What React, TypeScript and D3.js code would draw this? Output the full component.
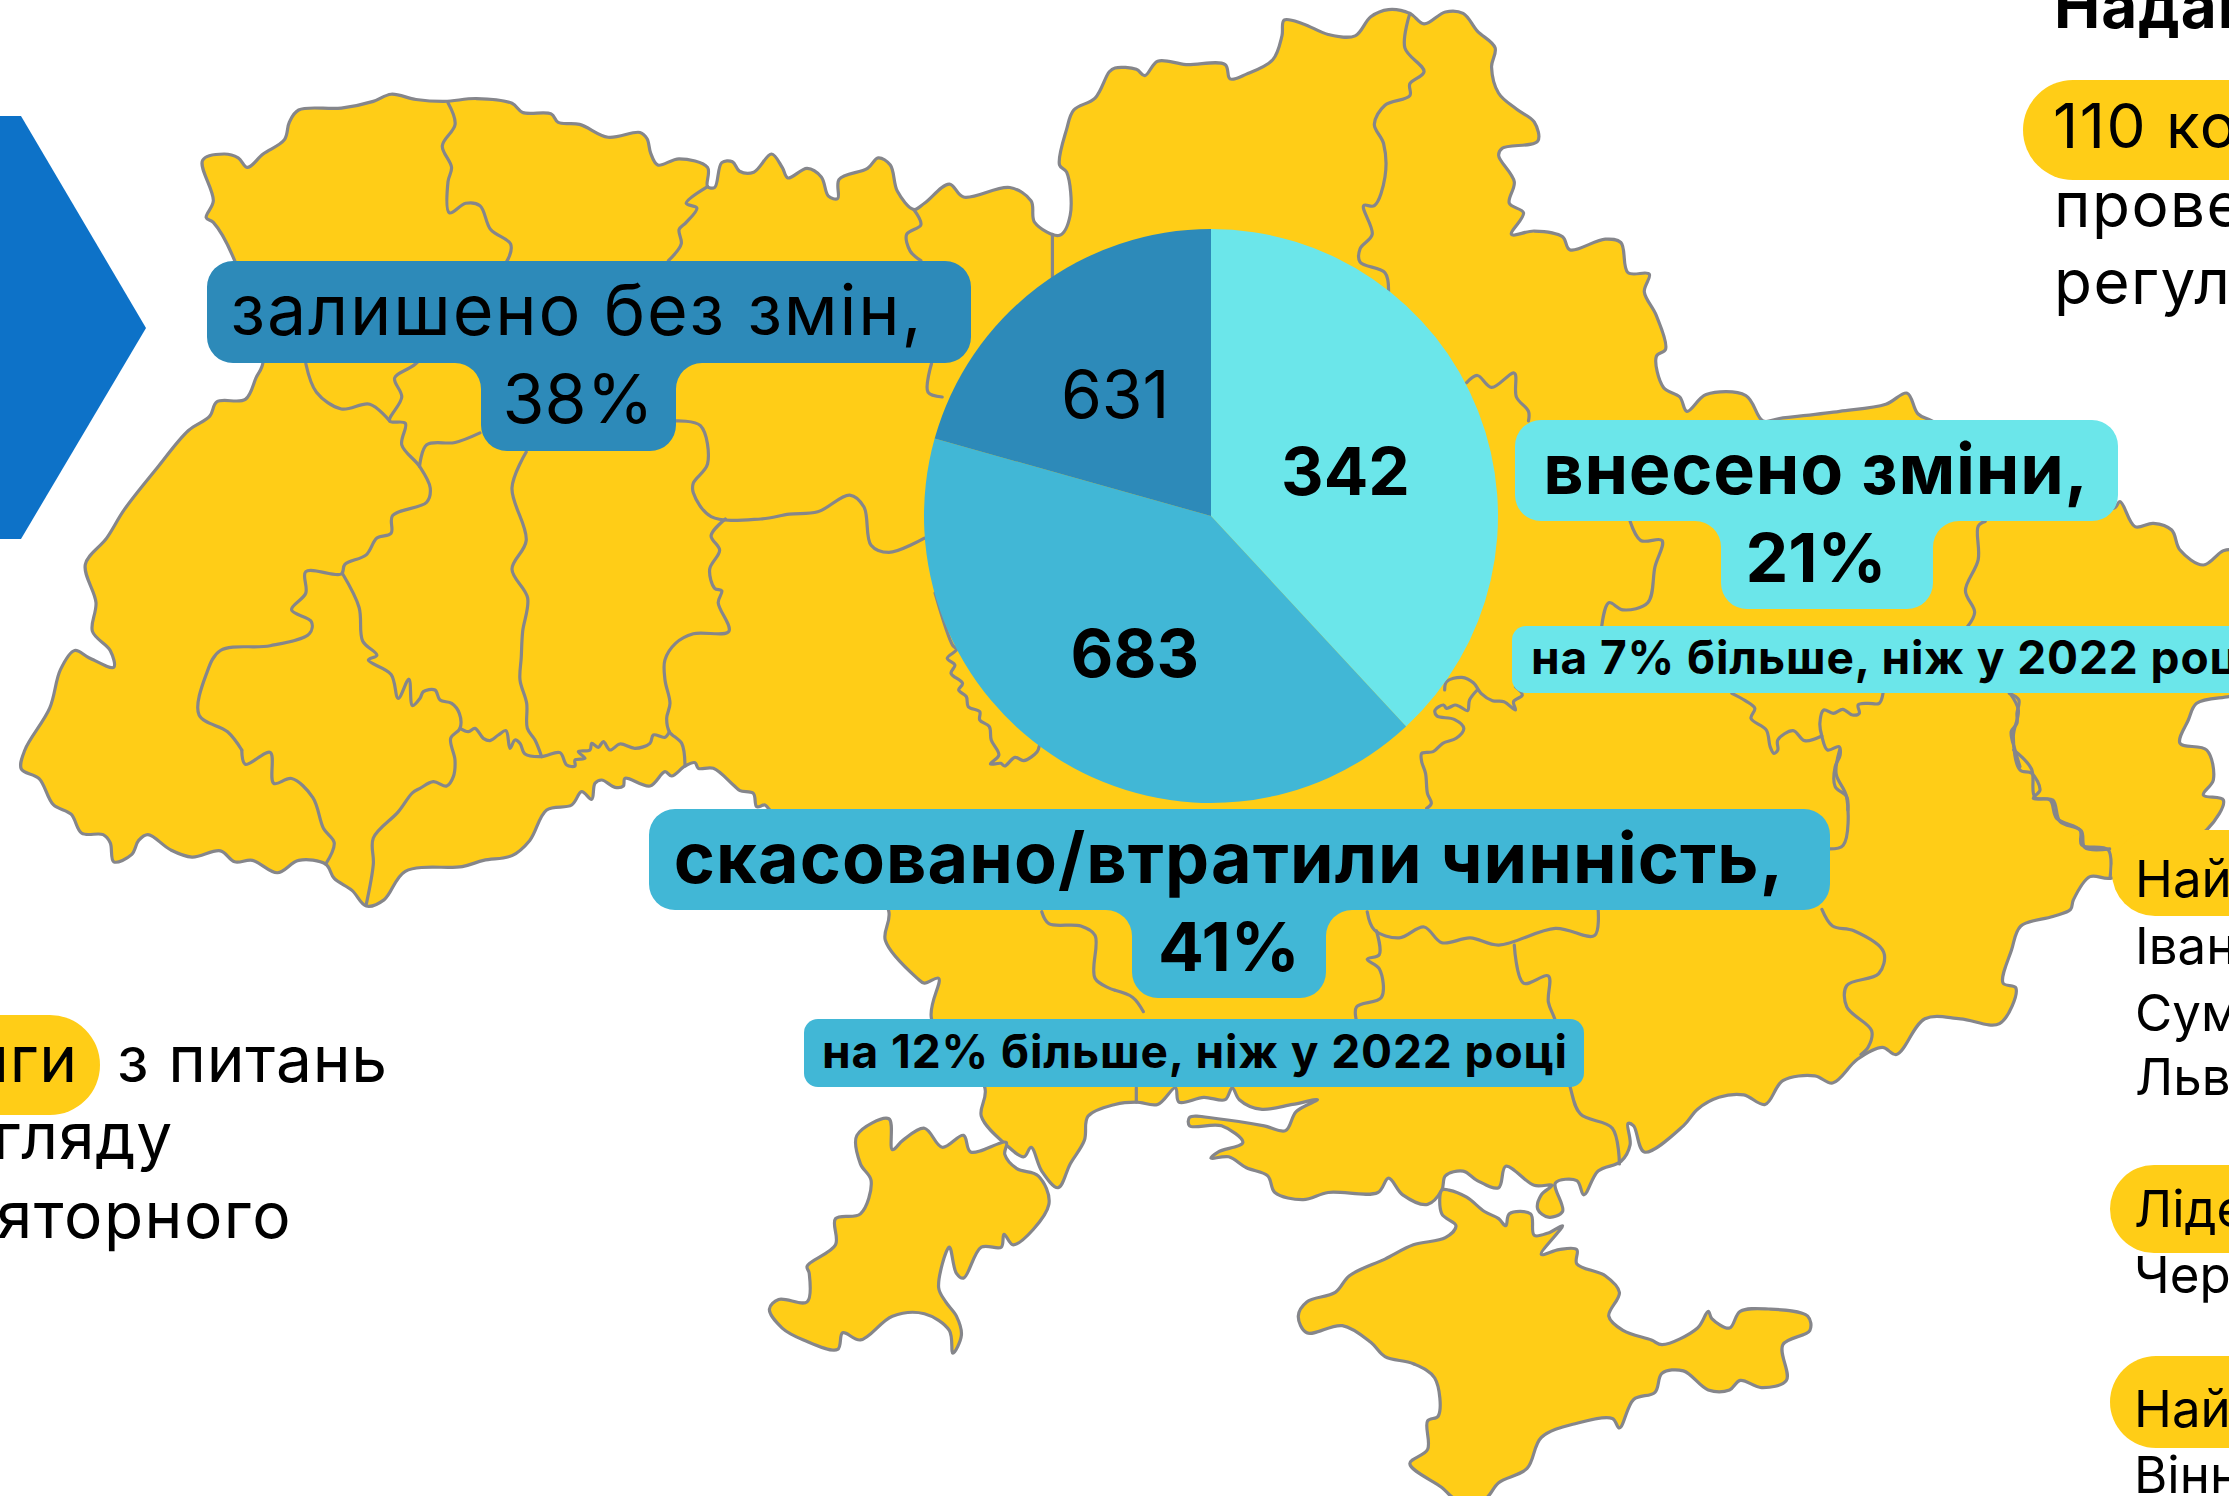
import { useEffect, useRef } from 'react'
import * as d3 from 'd3'

// Pie: the slices of the source are sized with these numbers, in drawing order
const sliceValues = [631, 683, 342]
// ...and printed with these ones (the source swaps 342 and 631)
const sliceLabels = ['342', '683', '631']
const sliceWeights = [700, 700, 400]
const sliceColors = ['#6BE6EA', '#41B7D6', '#2D8AB9']

const W = 2229
const H = 1496
const YELLOW = '#FFCD17'
const BORDER = '#85868B'
const FONT = "Inter, 'Noto Sans', sans-serif"

type Pt = [number, number]
type Crop = { x: number; y: number; sx: number; sy: number }

// Map outline was traced on crops of the reference, so each piece is in its crop's units
const NW: Crop = { x: 0, y: 0, sx: 1568 / 1115, sy: 1568 / 750 }
const NE: Crop = { x: 1115, y: 0, sx: 1568 / 1114, sy: 1568 / 750 }
const SW: Crop = { x: 0, y: 750, sx: 1568 / 1115, sy: 1568 / 746 }
const SE: Crop = { x: 1115, y: 750, sx: 1568 / 1114, sy: 1568 / 746 }
const EAST: Crop = { x: 1980, y: 480, sx: 3, sy: 3 }
const WEST_MID: Crop = { x: 420, y: 660, sx: 3, sy: 3 }
const PIE_FOOT: Crop = { x: 930, y: 640, sx: 1568 / 600, sy: 3 }
const EAST_MID: Crop = { x: 1420, y: 680, sx: 1568 / 600, sy: 3 }

const page = (c: Crop, pts: number[][]): Pt[] =>
  pts.map(([x, y]) => [c.x + x / c.sx, c.y + y / c.sy])

const mainland: Pt[] = [
  ...page(NW, [[285,335],[315,322],[335,330],[348,350],[370,322],[400,292],[407,255],[420,230],[480,226],[525,212],[550,197],[585,208],[625,212],[670,206],[720,216],[735,235],[775,238],[785,256],[815,260],[855,287],[900,277],[910,290],[915,320],[925,345],[955,332],[995,350],[995,390],[1005,392],[1015,340],[1030,338],[1040,358],[1060,360],[1085,322],[1100,350],[1108,372],[1135,352],[1155,370],[1165,410],[1178,415],[1180,375],[1220,352],[1235,330],[1252,345],[1262,400],[1285,438],[1300,425],[1335,385],[1355,412],[1420,392],[1450,420],[1455,465],[1490,492],[1505,450],[1500,360],[1490,345],[1500,270],[1510,230],[1540,205],[1560,150]]),
  ...page(NE, [[0,142],[30,145],[42,158],[60,128],[100,135],[155,135],[162,165],[185,155],[222,125],[235,75],[238,42],[265,50],[300,72],[338,75],[360,35],[385,20],[415,28],[435,50],[465,25],[490,28],[510,65],[535,100],[530,140],[540,195],[565,228],[590,255],[595,295],[545,310],[540,325],[562,380],[555,425],[575,445],[558,490],[590,483],[630,495],[640,522],[690,500],[712,507],[722,570],[752,573],[745,610],[762,660],[775,730],[762,745],[772,810],[795,830],[805,860],[832,825],[888,827],[912,880],[935,875],[1020,860],[1085,845],[1115,822],[1130,865],[1150,880]]),
  ...page(EAST, [[400,85],[420,65],[465,140],[520,130],[575,150],[600,210],[670,255],[730,212],[760,212],[800,300],[800,640],[747,650],[650,670],[625,720],[600,790],[680,810],[700,900],[670,945],[730,960],[680,1050],[500,1150],[390,1195],[330,1190],[280,1260]]),
  ...page(SE, [[1345,335],[1320,350],[1275,370],[1262,420],[1250,490],[1268,500],[1245,575],[1190,565],[1140,565],[1100,640],[1080,625],[1045,650],[1010,700],[985,685],[940,695],[915,745],[885,725],[850,730],[820,755],[800,790],[745,845],[730,790],[722,785],[725,830],[712,865],[680,885],[660,935],[650,905],[620,910],[630,970],[610,982],[595,965],[600,935],[615,915],[590,915],[550,875],[540,920],[510,905],[490,885],[465,895],[460,925],[440,955],[405,935],[385,900],[370,930],[300,930],[265,945],[225,930],[215,895],[185,878],[160,855],[135,858],[145,845],[180,825],[150,790],[105,790],[105,772],[145,775],[210,790],[240,800],[255,760],[285,735],[250,745],[205,755],[175,735],[165,710],[155,735],[125,730],[90,740],[85,710],[60,745],[30,740],[0,745]]),
  ...page(SW, [[1530,770],[1525,820],[1505,870],[1488,920],[1465,885],[1450,835],[1440,855],[1415,830],[1380,770],[1385,710],[1310,565],[1320,480],[1300,490],[1290,480],[1245,400],[1250,340],[1200,200]]),
  ...page(WEST_MID, [[1050,450],[1035,435],[1010,440],[1000,400],[960,392],[940,375],[880,325],[835,325],[825,308],[795,318],[755,348],[735,335],[690,378],[615,355],[610,378],[585,382],[545,360],[525,370],[515,418],[485,395],[455,435],[380,450]]),
  ...page(SW, [[745,190],[720,222],[680,232],[650,245],[570,255],[540,315],[515,328],[495,295],[470,270],[458,240],[420,232],[390,258],[355,232],[330,235],[310,212],[270,225],[240,210],[208,178],[195,190],[185,220],[160,235],[155,195],[145,178],[115,175],[100,135],[75,115],[55,60],[30,40],[35,0]]),
  ...page(NW, [[70,1480],[85,1400],[105,1360],[125,1375],[160,1395],[155,1360],[130,1320],[135,1260],[120,1180],[150,1125],[175,1065],[220,980],[265,900],[295,870],[305,840],[345,835],[360,790],[370,755],[330,545],[300,465],[290,455],[300,420]]),
]

const odesa: Pt[] = page(SW, [[1205,810],[1250,775],[1255,840],[1270,820],[1300,795],[1325,835],[1355,810],[1365,845],[1415,825],[1413,850],[1430,880],[1460,895],[1475,955],[1425,1040],[1412,1018],[1408,1045],[1380,1045],[1355,1110],[1345,1100],[1335,1045],[1320,1130],[1330,1160],[1345,1190],[1352,1230],[1340,1268],[1335,1220],[1300,1185],[1255,1190],[1210,1240],[1185,1225],[1178,1260],[1130,1240],[1100,1215],[1082,1175],[1095,1155],[1135,1160],[1138,1100],[1135,1085],[1175,1040],[1175,985],[1210,975],[1225,905],[1210,870]])

const crimea: Pt[] = page(SE, [[460,925],[460,975],[480,1000],[465,1025],[420,1040],[380,1070],[330,1105],[310,1140],[270,1160],[258,1190],[270,1225],[320,1210],[360,1245],[380,1275],[420,1290],[450,1320],[455,1400],[440,1410],[440,1470],[415,1500],[460,1550],[480,1575],[520,1575],[540,1540],[580,1510],[600,1445],[650,1415],[700,1405],[710,1425],[730,1365],[760,1350],[770,1310],[800,1305],[835,1345],[865,1345],[880,1325],[910,1340],[945,1325],[940,1250],[978,1220],[975,1190],[920,1175],[880,1180],[865,1215],[840,1195],[835,1180],[820,1215],[770,1250],[755,1240],[715,1220],[695,1190],[710,1140],[690,1105],[650,1080],[650,1050],[625,1050],[600,1060],[630,1000],[610,1015],[590,1020],[585,975],[555,975],[550,1000],[540,985],[520,970],[495,940],[470,925]])

// Oblast borders inside the outline
const borders: Pt[][] = [
  page(NW, [[630,215],[640,260],[622,305],[635,350],[630,380],[632,445],[655,425],[675,430],[690,480],[718,510],[715,540],[585,760],[555,790],[565,830],[548,880],[570,885],[565,930],[590,975],[605,1020],[600,1050],[552,1078],[550,1115],[530,1125],[515,1160],[485,1180],[480,1200],[430,1195],[430,1240],[410,1275],[438,1300],[435,1325],[380,1350],[310,1360],[290,1410],[280,1495],[320,1530],[340,1568]]),
  page(SW, [[340,0],[345,30],[380,5],[385,70],[410,60],[440,100],[455,165],[470,195],[458,240]]),
  page(NW, [[430,760],[445,820],[480,855],[520,845],[548,880]]),
  page(NW, [[590,975],[600,930],[640,925],[675,905]]),
  [
    ...page(NW, [[740,945],[720,1020],[740,1130],[720,1190],[742,1250],[735,1320],[733,1375]]),
    ...page(WEST_MID, [[300,60],[320,130],[322,205],[345,240],[365,290]]),
  ],
  [
    ...page(NW, [[482,1200],[505,1270],[510,1340],[530,1370],[518,1380],[550,1410],[560,1460],[575,1420],[580,1475]]),
    ...page(WEST_MID, [[0,115],[10,95],[45,90],[60,120],[95,130],[118,160],[120,205],[92,235],[105,300],[100,350],[80,378],[40,365],[0,385]]),
    ...page(SW, [[580,90],[560,130],[525,185],[525,240],[515,325]]),
  ],
  page(WEST_MID, [[120,205],[145,215],[165,205],[190,235],[210,242],[235,225],[258,212],[270,265],[285,240],[300,250],[315,282],[365,290],[420,278],[440,315],[465,318],[465,300],[495,295],[475,275],[510,270],[515,250],[535,262],[550,245],[570,270],[600,252],[645,265],[690,250],[700,225],[735,232],[748,215]]),
  page(NW, [[950,880],[985,890],[995,970],[975,1010],[975,1030],[1000,1080],[1070,1085],[1110,1075],[1150,1070],[1195,1035],[1215,1060],[1225,1140],[1250,1155],[1300,1125]]),
  [
    ...page(NW, [[1020,1085],[1000,1120],[1012,1150],[998,1190],[1005,1230],[1015,1235],[1010,1260],[1025,1320],[975,1325],[950,1345],[935,1380]]),
    ...page(WEST_MID, [[735,60],[750,130],[740,175],[748,215],[785,250],[795,318]]),
  ],
  page(NW, [[995,390],[965,425],[980,435],[965,465],[955,480],[958,510],[940,545]]),
  page(NW, [[1285,438],[1295,470],[1275,490],[1280,525],[1295,545]]),
  page(NW, [[1310,760],[1305,820],[1325,830]]),
  page(NW, [[1480,490],[1480,580]]),
  [
    ...page(NW, [[1315,1240],[1340,1350]]),
    ...page(PIE_FOOT, [[70,28],[45,55],[65,75],[55,100],[85,130],[75,150],[95,170],[100,200],[130,215],[130,240],[155,260],[160,300],[180,345],[158,372],[185,370],[195,378],[222,352],[245,362],[280,335],[285,320]]),
  ],
  page(SW, [[1465,340],[1475,365],[1520,370],[1540,390],[1540,480],[1568,505]]),
  page(SE, [[0,505],[25,520],[40,550]]),
  page(SE, [[30,710],[30,740]]),
  page(SE, [[355,340],[365,378],[400,395],[435,372],[460,405],[500,395],[540,410],[620,375],[675,390],[680,335]]),
  page(SE, [[562,410],[575,490],[610,475],[610,530],[620,570],[640,705],[655,765],[700,795],[710,870]]),
  page(SE, [[368,380],[372,430],[355,440],[372,460],[375,520],[340,540],[340,570]]),
  page(SE, [[995,335],[1010,370],[1040,380],[1082,425],[1075,470],[1030,495],[1030,540],[1065,590],[1060,625],[1050,640]]),
  page(SE, [[1020,0],[1015,50],[1030,100],[1025,200],[1005,208]]),
  page(SE, [[1265,0],[1290,40],[1295,100],[1320,105],[1330,150],[1360,170],[1365,205],[1400,208]]),
  page(NE, [[415,28],[408,100],[435,150],[415,175],[415,200],[380,220],[365,260],[378,300],[380,370],[365,430],[350,430],[362,490],[345,520],[345,548],[380,570],[385,610]]),
  page(NE, [[495,800],[510,785],[530,810],[562,780],[565,830],[582,860],[582,880]]),
  page(NE, [[725,1090],[740,1130],[770,1130],[760,1185],[750,1260],[715,1275],[695,1260],[685,1310]]),
  page(NE, [[1225,1090],[1215,1100],[1215,1170],[1197,1235],[1210,1280],[1200,1310]]),
  page(PIE_FOOT, [[1345,150],[1350,125],[1390,112],[1420,128],[1440,160],[1470,182],[1500,185],[1530,210],[1525,185],[1548,165],[1530,140]]),
  page(PIE_FOOT, [[1430,150],[1410,180],[1405,212],[1385,200],[1372,195],[1350,205],[1342,195],[1320,210],[1325,228],[1370,238],[1395,265],[1375,295],[1340,310],[1315,335],[1285,340],[1285,365],[1295,400],[1300,460],[1310,490],[1298,505]]),
  page(EAST_MID, [[815,40],[850,62],[875,85],[865,115],[905,150],[915,200],[925,220],[935,210],[935,180],[975,152],[1005,182],[1050,168]]),
  page(EAST_MID, [[1210,40],[1200,70],[1170,70],[1145,75],[1148,100],[1130,105],[1105,88],[1080,100],[1055,90],[1045,130],[1050,168],[1065,210],[1095,200],[1098,225],[1085,260],[1085,320],[1115,350],[1118,390]]),
  page(EAST_MID, [[1540,40],[1565,60],[1560,100],[1560,130],[1545,155],[1555,210],[1568,260]]),
  page(EAST, [[90,640],[115,690],[100,770],[120,870],[155,880],[180,930],[160,955],[210,960],[230,1015],[300,1050],[305,1095],[385,1110],[390,1195]]),
]

const arrow: Pt[] = [[0, 116], [21, 116], [146, 328], [21, 539], [0, 539]]

type Box = { x0: number; y0: number; x1: number; y1: number }

// Header box with a narrower tab hanging below it, filleted where they meet
function tabShape(b: Box, t: Box, r: number) {
  const p = d3.path()
  p.moveTo(b.x0 + r, b.y0)
  p.arcTo(b.x1, b.y0, b.x1, b.y0 + r, r)
  p.arcTo(b.x1, b.y1, b.x1 - r, b.y1, r)
  p.lineTo(t.x1 + r, b.y1)
  p.arcTo(t.x1, b.y1, t.x1, b.y1 + r, r)
  p.arcTo(t.x1, t.y1, t.x1 - r, t.y1, r)
  p.arcTo(t.x0, t.y1, t.x0, t.y1 - r, r)
  p.lineTo(t.x0, b.y1 + r)
  p.arcTo(t.x0, b.y1, t.x0 - r, b.y1, r)
  p.lineTo(b.x0 + r, b.y1)
  p.arcTo(b.x0, b.y1, b.x0, b.y1 - r, r)
  p.arcTo(b.x0, b.y0, b.x0 + r, b.y0, r)
  p.closePath()
  return p.toString()
}

export default function App() {
  const svgRef = useRef<SVGSVGElement | null>(null)

  useEffect(() => {
    if (!svgRef.current) return
    const svg = d3.select(svgRef.current)
    svg.selectAll('*').remove()

    const addText = (x: number, y: number, str: string, size: number, weight = 400, anchor = 'start', spacing = 0) =>
      svg.append('text')
        .attr('x', x).attr('y', y)
        .attr('font-family', FONT)
        .attr('font-size', size)
        .attr('font-weight', weight)
        .attr('text-anchor', anchor)
        .attr('letter-spacing', spacing)
        .attr('fill', '#000')
        .text(str)

    const addPill = (x: number, y: number, w: number, h: number, r: number, fill: string) =>
      svg.append('rect')
        .attr('x', x).attr('y', y).attr('width', w).attr('height', h)
        .attr('rx', r).attr('fill', fill)

    // Map
    const closed = d3.line().curve(d3.curveCatmullRomClosed.alpha(0.5))
    const open = d3.line().curve(d3.curveCatmullRom.alpha(0.5))
    const map = svg.append('g')
    for (const shape of [mainland, odesa, crimea]) {
      map.append('path')
        .attr('d', closed(shape))
        .attr('fill', YELLOW)
        .attr('stroke', BORDER)
        .attr('stroke-width', 3.2)
        .attr('stroke-linejoin', 'round')
    }
    map.selectAll('.border')
      .data(borders)
      .join('path')
      .attr('class', 'border')
      .attr('d', d => open(d))
      .attr('fill', 'none')
      .attr('stroke', BORDER)
      .attr('stroke-width', 3.2)
      .attr('stroke-linecap', 'round')

    // Arrow on the left
    svg.append('path').attr('d', d3.line()(arrow) + 'Z').attr('fill', '#0D72C8')

    // Pie
    const cx = 1211, cy = 516, radius = 287
    const labelNudge = [[-7, 7], [3, 4], [-4, -4]]
    const pie = d3.pie<number>().sort(null)
    const arcs = pie(sliceValues)
    const arc = d3.arc<d3.PieArcDatum<number>>().innerRadius(0).outerRadius(radius)
    const labelArc = d3.arc<d3.PieArcDatum<number>>().innerRadius(152).outerRadius(152)
    const pieG = svg.append('g').attr('transform', `translate(${cx},${cy})`)
    pieG.selectAll('path')
      .data(arcs)
      .join('path')
      .attr('d', arc)
      .attr('fill', (_, i) => sliceColors[i])
    pieG.selectAll('text')
      .data(arcs)
      .join('text')
      .attr('x', (d, i) => labelArc.centroid(d)[0] + labelNudge[i][0])
      .attr('y', (d, i) => labelArc.centroid(d)[1] + 27 + labelNudge[i][1])
      .attr('text-anchor', 'middle')
      .attr('font-family', FONT)
      .attr('font-size', 66)
      .attr('font-weight', (_, i) => sliceWeights[i])
      .attr('fill', '#000')
      .text((_, i) => sliceLabels[i])

    // Callouts
    svg.append('path')
      .attr('d', tabShape({ x0: 207, y0: 261, x1: 971, y1: 363 }, { x0: 481, y0: 363, x1: 676, y1: 451 }, 26))
      .attr('fill', sliceColors[2])
    addText(577, 335, 'залишено без змін,', 70, 400, 'middle', 1.8)
    addText(578, 423, '38%', 68, 400, 'middle', 0)

    svg.append('path')
      .attr('d', tabShape({ x0: 1515, y0: 420, x1: 2118, y1: 521 }, { x0: 1721, y0: 521, x1: 1933, y1: 609 }, 26))
      .attr('fill', sliceColors[0])
    addText(1816, 494, 'внесено зміни,', 70, 700, 'middle', 0.8)
    addText(1816, 582, '21%', 68, 700, 'middle', 0)
    addPill(1512, 626, 800, 67, 14, sliceColors[0])
    addText(1531, 674, 'на 7% більше, ніж у 2022 році', 46, 700, 'start', 0.9)

    svg.append('path')
      .attr('d', tabShape({ x0: 649, y0: 809, x1: 1830, y1: 910 }, { x0: 1132, y0: 910, x1: 1326, y1: 998 }, 26))
      .attr('fill', sliceColors[1])
    addText(1229, 883, 'скасовано/втратили чинність,', 70, 700, 'middle', 1.1)
    addText(1229, 971, '41%', 68, 700, 'middle', 0)
    addPill(804, 1019, 780, 68, 14, sliceColors[1])
    addText(1195, 1068, 'на 12% більше, ніж у 2022 році', 46, 700, 'middle', 0.9)

    // Left column, runs off the page
    addPill(-300, 1015, 400, 100, 50, YELLOW)
    addText(78, 1082, 'тренінги', 64, 400, 'end', 0.8)
    addText(117, 1082, 'з питань', 64, 400, 'start', 0.8)
    addText(173, 1159, 'перегляду', 64, 400, 'end', 0.8)
    addText(292, 1238, 'регуляторного', 64, 400, 'end', 1.5)

    // Right column, runs off the page
    addText(2054, 28, 'Надано', 62, 700, 'start', 1)
    addPill(2023, 80, 500, 100, 50, YELLOW)
    addText(2053, 148, '110 консультацій', 62, 400, 'start', 1.5)
    addText(2054, 227, 'проведено з питань', 62, 400, 'start', 1.5)
    addText(2054, 304, 'регуляторного', 62, 400, 'start', 1.5)

    addPill(2112, 830, 400, 86, 43, YELLOW)
    addText(2135, 897, 'Найбільше', 51)
    addText(2135, 964, 'Івано-Франківська', 51)
    addText(2135, 1031, 'Сумська', 51)
    addText(2135, 1095, 'Львівська', 51)

    addPill(2110, 1165, 400, 88, 44, YELLOW)
    addText(2134, 1227, 'Лідер', 51)
    addText(2134, 1293, 'Черкаська', 51)

    addPill(2110, 1356, 400, 92, 46, YELLOW)
    addText(2134, 1427, 'Найменше', 51)
    addText(2134, 1493, 'Вінницька', 51)
  }, [])

  return (
    <svg
      ref={svgRef}
      width={W}
      height={H}
      viewBox={`0 0 ${W} ${H}`}
      style={{ position: 'fixed', left: 0, top: 0, background: '#fff' }}
    />
  )
}
